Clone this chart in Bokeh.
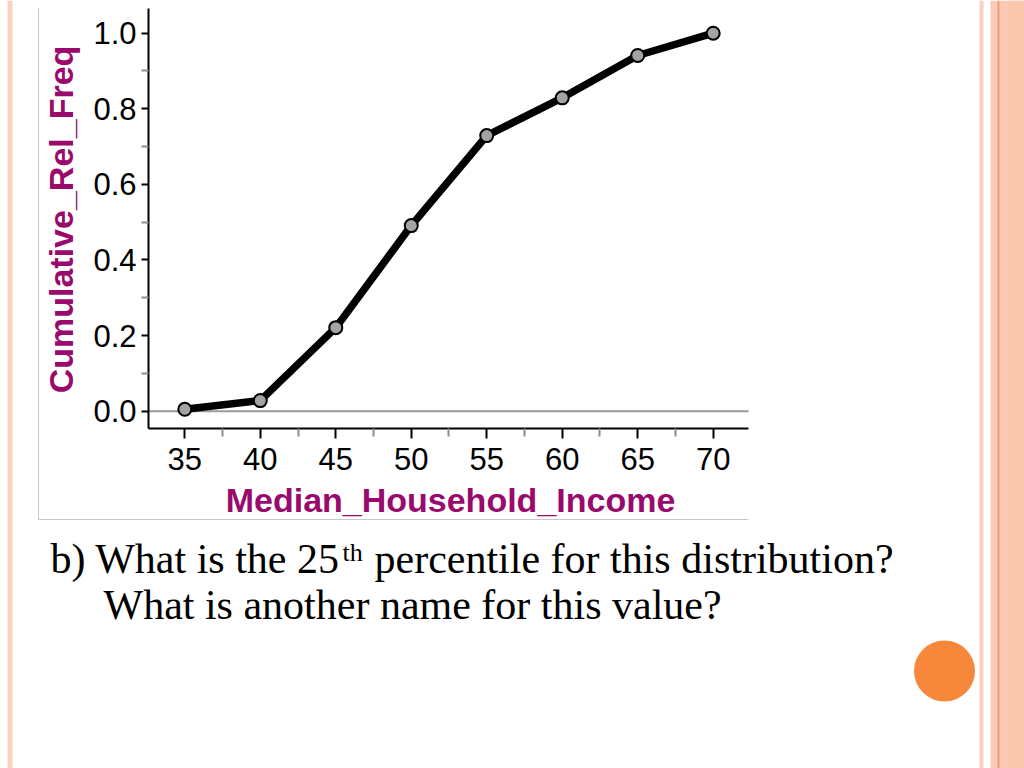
import math
from bokeh.plotting import figure
from bokeh.models import FixedTicker, LinearAxis, Range1d
from bokeh.core.properties import value
from bokeh.embed import file_html
from bokeh.resources import INLINE

# ---- data ----
income = [35, 40, 45, 50, 55, 60, 65, 70]
cum_rel_freq = [0.005, 0.028, 0.221, 0.491, 0.729, 0.829, 0.941, 1.0]

x_ticks = [35, 40, 45, 50, 55, 60, 65, 70]
x_tick_labels = ["35", "40", "45", "50", "55", "60", "65", "70"]
y_ticks = [0.0, 0.2, 0.4, 0.6, 0.8, 1.0]
y_tick_labels = ["0.0", "0.2", "0.4", "0.6", "0.8", "1.0"]

x_label = "Median_Household_Income"
y_label = "Cumulative_Rel_Freq"

question_1a = "b) What is the 25"
question_sup = "th"
question_1b = "percentile for this distribution?"
question_2 = "What is another name for this value?"

# chart data window (axis extents)
X_LO, X_HI = 32.596, 72.338
Y_LO, Y_HI = -0.0458, 1.0653

# ---- canvas: whole slide, 1 unit = 1 px, y up ----
W, H = 1024, 768
# chart box in page pixels (top-left origin)
CL, CR, CT, CB = 148, 748, 8, 428

p = figure(width=W, height=H, output_backend="svg", toolbar_location=None,
           x_range=Range1d(0, W), y_range=Range1d(0, H),
           x_axis_location=None, y_axis_location=None, min_border=0)
p.grid.visible = False
p.outline_line_color = None
p.background_fill_color = "white"
p.border_fill_color = "white"

sxc = (CR - CL) / (X_HI - X_LO)
syc = (CB - CT) / (Y_HI - Y_LO)
p.extra_x_ranges = {"cx": Range1d(X_LO - CL / sxc, X_HI + (W - CR) / sxc)}
p.extra_y_ranges = {"cy": Range1d(Y_LO - (H - CB) / syc, Y_HI + CT / syc)}

BASE_SHIFT = 0.36  # compensation of rendered baseline offset (em)

def Y(page_y, size=0):
    return H - page_y + BASE_SHIFT * size

# ---- slide decorations (page pixels) ----
def band(x0, x1, color):
    p.quad(left=[x0], right=[x1], top=[H], bottom=[0], fill_color=color,
           line_color=None)

band(7, 12, "#fad0bf")
band(979, 983, "#f9d0c0")
band(990, 1024, "#fbcbb7")
band(1008, 1024, "#fcc5ae")
band(997, 999, "#f29d72")

# chart border (left & bottom)
p.segment(x0=[38, 38], y0=[Y(8), Y(519)], x1=[38, 748], y1=[Y(519), Y(519)],
          line_color="#c8c8c8", line_width=1)

# orange dot
p.circle(x=[944], y=[Y(670.5)], radius=30.5, fill_color="#f7883b", line_color=None)

# ---- chart axes ----
AXIS_LABEL_COLOR = "#990a6c"

xa = LinearAxis(x_range_name="cx", y_range_name="cy", fixed_location=Y_LO,
                bounds=(X_LO, X_HI))
xa.ticker = FixedTicker(ticks=x_ticks,
                        minor_ticks=[(a + b) / 2 for a, b in zip(x_ticks, x_ticks[1:])])
xa.major_label_overrides = {t: l for t, l in zip(x_ticks, x_tick_labels)}
xa.major_label_text_font = "Liberation Sans"
xa.major_label_text_font_size = "31px"
xa.major_label_text_color = "black"
xa.major_label_standoff = 9
xa.axis_line_color = "black"
xa.axis_line_width = 2
xa.major_tick_in = 0
xa.major_tick_out = 10
xa.major_tick_line_color = "black"
xa.major_tick_line_width = 2
xa.minor_tick_in = 0
xa.minor_tick_out = 8
xa.minor_tick_line_color = "#8c8c8c"
xa.minor_tick_line_width = 2
p.add_layout(xa, "below")

ya = LinearAxis(x_range_name="cx", y_range_name="cy", fixed_location=X_LO,
                bounds=(Y_LO, Y_HI))
ya.ticker = FixedTicker(ticks=y_ticks,
                        minor_ticks=[(a + b) / 2 for a, b in zip(y_ticks, y_ticks[1:])])
ya.major_label_overrides = {t: l for t, l in zip(y_ticks, y_tick_labels)}
ya.major_label_text_font = "Liberation Sans"
ya.major_label_text_font_size = "31px"
ya.major_label_text_color = "black"
ya.major_label_standoff = 5
ya.axis_line_color = "black"
ya.axis_line_width = 2
ya.major_tick_in = 0
ya.major_tick_out = 7
ya.major_tick_line_color = "black"
ya.major_tick_line_width = 2
ya.minor_tick_in = 0
ya.minor_tick_out = 7
ya.minor_tick_line_color = "#8c8c8c"
ya.minor_tick_line_width = 2
p.add_layout(ya, "left")

# axis titles
p.text(x=[450], y=[Y(512, 34)], text=[x_label], text_font=value("Liberation Sans"),
       text_font_style="bold", text_font_size="34px", text_color=AXIS_LABEL_COLOR,
       text_align="center", text_baseline="alphabetic")
p.text(x=[73 - BASE_SHIFT * 34], y=[Y(219)], text=[y_label], angle=math.pi / 2,
       text_font=value("Liberation Sans"), text_font_style="bold",
       text_font_size="34px", text_color=AXIS_LABEL_COLOR,
       text_align="center", text_baseline="alphabetic")

# zero reference line
p.segment(x0=[X_LO], y0=[0], x1=[X_HI], y1=[0], x_range_name="cx", y_range_name="cy",
          line_color="#9a9a9a", line_width=2)

# data
p.line(income, cum_rel_freq, x_range_name="cx", y_range_name="cy",
       line_color="black", line_width=7.5, line_join="round")
p.scatter(income, cum_rel_freq, x_range_name="cx", y_range_name="cy",
          size=13, fill_color="#a3a3a3", line_color="black", line_width=2)

# ---- question text ----
TXT_FONT = value("Liberation Serif")
p.text(x=[50], y=[Y(573.3, 42)], text=[question_1a], text_font=TXT_FONT,
       text_font_size="42px", text_color="black", text_baseline="alphabetic")
p.text(x=[342], y=[Y(561.5, 26)], text=[question_sup], text_font=TXT_FONT,
       text_font_size="26px", text_color="black", text_baseline="alphabetic")
p.text(x=[374], y=[Y(573.3, 42)], text=[question_1b], text_font=TXT_FONT,
       text_font_size="42px", text_color="black", text_baseline="alphabetic")
p.text(x=[103], y=[Y(620, 42)], text=[question_2], text_font=TXT_FONT,
       text_font_size="42px", text_color="black", text_baseline="alphabetic")

open("out.html", "w").write(file_html(p, INLINE))
